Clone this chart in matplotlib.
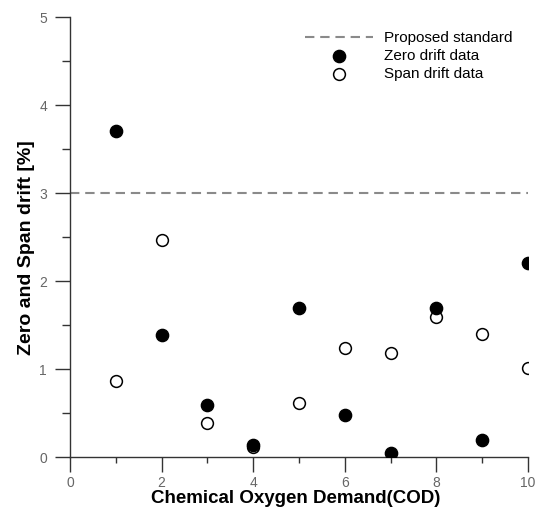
import matplotlib.pyplot as plt
import numpy as np

plt.rcParams['font.family'] = ['Liberation Sans', 'DejaVu Sans']

# data
cod = [1, 2, 3, 4, 5, 6, 7, 8, 9, 10]
zero_drift = [3.70, 1.39, 0.59, 0.14, 1.69, 0.48, 0.05, 1.69, 0.19, 2.20]
span_drift = [0.86, 2.47, 0.39, 0.11, 0.61, 1.24, 1.18, 1.59, 1.40, 1.01]
standard = 3.0

fig = plt.figure(figsize=(5.38, 5.16), dpi=100)
ax = fig.add_axes([0.1301, 0.1143, 0.8513, 0.8527])

ax.plot([0, 10], [standard, standard], color='#8a8a8a', linestyle=(0, (4.5, 2.8)),
        linewidth=1.5, label='Proposed standard', zorder=1)
ax.scatter(cod, zero_drift, s=78, color='black', edgecolors='black',
           label='Zero drift data', zorder=3)
ax.scatter(cod, span_drift, s=72, facecolors='white', edgecolors='black',
           linewidths=1.1, label='Span drift data', zorder=2)

ax.set_xlim(0, 10)
ax.set_ylim(0, 5)
ax.set_xticks(np.arange(0, 11, 2))
ax.set_xticks(np.arange(0, 11, 1), minor=True)
ax.set_yticks(np.arange(0, 6, 1))
ax.set_yticks(np.arange(0, 5.5, 0.5), minor=True)

for side in ['top', 'right']:
    ax.spines[side].set_visible(False)
for side in ['left', 'bottom']:
    ax.spines[side].set_color('#333333')
    ax.spines[side].set_linewidth(1.0)

ax.tick_params(which='major', length=11, width=1.0, color='#333333',
               labelcolor='#666666', labelsize=10)
ax.tick_params(axis='y', which='major', pad=5.5)
ax.tick_params(axis='x', which='major', pad=3.0)
ax.tick_params(axis='y', which='minor', length=6, width=1.0, color='#333333')
ax.tick_params(axis='x', which='minor', length=4.5, width=1.0, color='#333333')

ax.set_xlabel('Chemical Oxygen Demand(COD)', fontsize=13.5, fontweight='bold')
ax.set_ylabel('Zero and Span drift [%]', fontsize=14, fontweight='bold')
ax.xaxis.set_label_coords(0.492, -0.076)
ax.yaxis.set_label_coords(-0.076, 0.477)

ax.legend(loc='upper left', frameon=False, fontsize=11, handlelength=4.45,
          handletextpad=0.72, labelspacing=0.25, borderpad=0, borderaxespad=0,
          bbox_to_anchor=(305 / 538, 1 - 31 / 516), bbox_transform=fig.transFigure)

fig.savefig('out.png', dpi=100)
